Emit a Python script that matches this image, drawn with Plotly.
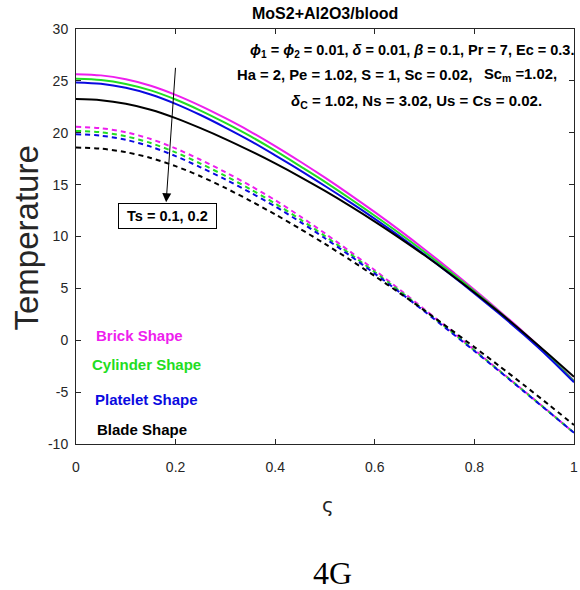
import plotly.graph_objects as go

# Dimensionless coordinate
zeta = [0.00, 0.05, 0.10, 0.15, 0.20, 0.25, 0.30, 0.35, 0.40, 0.45, 0.50,
        0.55, 0.60, 0.65, 0.70, 0.75, 0.80, 0.85, 0.90, 0.95, 1.00]

# Temperature profiles, Ts = 0.1 (solid)
brick_ts1 = [25.65, 25.53, 25.15, 24.53, 23.65, 22.59, 21.40, 20.12, 18.72, 17.23, 15.67,
             14.04, 12.35, 10.59, 8.75, 6.84, 4.87, 2.83, 0.72, -1.50, -3.90]
cylinder_ts1 = [25.20, 25.08, 24.70, 24.08, 23.20, 22.14, 20.95, 19.67, 18.27, 16.78, 15.27,
                13.66, 12.00, 10.29, 8.50, 6.64, 4.72, 2.72, 0.64, -1.56, -3.95]
platelet_ts1 = [24.85, 24.72, 24.33, 23.69, 22.79, 21.71, 20.50, 19.22, 17.82, 16.38, 14.87,
                13.32, 11.70, 10.01, 8.25, 6.42, 4.52, 2.55, 0.50, -1.68, -4.05]
blade_ts1 = [23.25, 23.14, 22.79, 22.22, 21.41, 20.44, 19.39, 18.25, 17.04, 15.75, 14.39,
             12.95, 11.44, 9.85, 8.19, 6.44, 4.61, 2.69, 0.68, -1.40, -3.52]

# Temperature profiles, Ts = 0.2 (dashed)
brick_ts2 = [20.57, 20.44, 20.05, 19.40, 18.49, 17.40, 16.20, 14.90, 13.50, 11.95, 10.30,
             8.56, 6.75, 4.88, 2.97, 1.03, -0.93, -2.91, -4.90, -6.90, -8.92]
cylinder_ts2 = [20.18, 20.05, 19.66, 19.01, 18.11, 17.03, 15.84, 14.56, 13.18, 11.66, 10.04,
                8.34, 6.57, 4.74, 2.87, 0.96, -0.98, -2.94, -4.92, -6.91, -8.92]
platelet_ts2 = [19.86, 19.72, 19.32, 18.66, 17.75, 16.67, 15.50, 14.24, 12.90, 11.41, 9.83,
                8.16, 6.42, 4.62, 2.77, 0.88, -1.04, -2.99, -4.95, -6.93, -8.92]
blade_ts2 = [18.58, 18.47, 18.13, 17.57, 16.78, 15.81, 14.68, 13.44, 12.13, 10.74, 9.28,
             7.76, 6.18, 4.55, 2.86, 1.12, -0.66, -2.48, -4.34, -6.24, -8.17]

shape_names = ["Brick Shape", "Cylinder Shape", "Platelet Shape", "Blade Shape"]
shape_colors = ["#ee1eee", "#22dd22", "#0a0ae0", "#000000"]

x_ticks = [0, 0.2, 0.4, 0.6, 0.8, 1]
x_tick_text = ["0", "0.2", "0.4", "0.6", "0.8", "1"]
y_ticks = [-10, -5, 0, 5, 10, 15, 20, 25, 30]
y_tick_text = ["-10", "-5", "0", "5", "10", "15", "20", "25", "30"]

fig = go.Figure()

solid_sets = [brick_ts1, cylinder_ts1, platelet_ts1, blade_ts1]
dashed_sets = [brick_ts2, cylinder_ts2, platelet_ts2, blade_ts2]

for name, color, ys in zip(shape_names, shape_colors, solid_sets):
    fig.add_trace(go.Scatter(
        x=zeta, y=ys, mode="lines", name=name,
        line=dict(color=color, width=2, shape="spline", smoothing=0.8),
        showlegend=False,
    ))
for name, color, ys in zip(shape_names, shape_colors, dashed_sets):
    fig.add_trace(go.Scatter(
        x=zeta, y=ys, mode="lines", name=name,
        line=dict(color=color, width=2, dash="5px,4px", shape="spline", smoothing=0.8),
        showlegend=False,
    ))

font_main = "Liberation Sans, Arial, sans-serif"
axis_color = "#262626"

annotations = []

# Title
annotations.append(dict(
    text="<b>MoS2+Al2O3/blood</b>", xref="paper", yref="paper",
    x=0.5, y=1.0, yshift=16, xanchor="center", yanchor="middle",
    showarrow=False, font=dict(family=font_main, size=16, color="#000000"),
))

# Parameter lines (text, left x in data units, y, font size)
param_lines = [
    ("<b><i>ϕ</i><sub>1</sub> = <i>ϕ</i><sub>2</sub> = 0.01, <i>δ</i> = 0.01, <i>β</i> = 0.1, Pr = 7, Ec = 0.3.</b>", 0.345, 27.85, 14.5),
    ("<b>Ha = 2, Pe = 1.02, S = 1, Sc = 0.02,</b>", 0.320, 25.55, 14.8),
    ("<b>Sc<sub>m</sub> =1.02,</b>", 0.815, 25.55, 14.8),
    ("<b><i>δ</i><sub>C</sub> = 1.02, Ns = 3.02, Us = Cs = 0.02.</b>", 0.427, 23.05, 15),
]
for txt, xp, yv, fs in param_lines:
    annotations.append(dict(
        text=txt, xref="x", yref="y", x=xp, y=yv,
        xanchor="left", yanchor="middle", showarrow=False,
        font=dict(family=font_main, size=fs, color="#000000"),
    ))

# Arrow showing increasing Ts
annotations.append(dict(
    text="", xref="x", yref="y", axref="x", ayref="y",
    x=0.181, y=13.3, ax=0.2, ay=26.4,
    showarrow=True, arrowhead=2, arrowsize=1.8, arrowwidth=1,
    arrowcolor="#000000", standoff=0,
))

# Ts label box
annotations.append(dict(
    text="<b>&nbsp;Ts = 0.1, 0.2&nbsp;</b>", xref="x", yref="y", x=0.184, y=11.95,
    xanchor="center", yanchor="middle", showarrow=False,
    font=dict(family=font_main, size=14.5, color="#000000"),
    bordercolor="#000000", borderwidth=1, borderpad=4, bgcolor="#ffffff",
))

# Shape labels
label_pos = [(0.037, 0.5), (0.029, -2.3), (0.035, -5.7), (0.039, -8.6)]
for name, color, (xp, yv) in zip(shape_names, shape_colors, label_pos):
    annotations.append(dict(
        text="<b>%s</b>" % name, xref="x", yref="y", x=xp, y=yv,
        xanchor="left", yanchor="middle", showarrow=False,
        font=dict(family=font_main, size=15, color=color),
    ))

# Axis titles
annotations.append(dict(
    text="Temperature", xref="paper", yref="paper", x=0, xshift=-50,
    y=0.5, yshift=-2, textangle=-90, xanchor="center", yanchor="middle",
    showarrow=False, font=dict(family=font_main, size=33, color=axis_color),
))
annotations.append(dict(
    text="ς", xref="paper", yref="paper", x=0.5, y=0, yshift=-61,
    xshift=3, xanchor="center", yanchor="middle", showarrow=False,
    font=dict(family="DejaVu Sans, sans-serif", size=20, color=axis_color),
))
annotations.append(dict(
    text="4G", xref="paper", yref="paper", x=0.5, y=0, yshift=-129,
    xshift=7, xanchor="center", yanchor="middle", showarrow=False,
    font=dict(family="Liberation Serif, Times New Roman, serif", size=32, color="#000000"),
))

fig.update_layout(
    width=580, height=590,
    margin=dict(l=76, r=2, t=29, b=146),
    paper_bgcolor="#ffffff", plot_bgcolor="#ffffff",
    annotations=annotations,
    showlegend=False,
)

fig.update_xaxes(
    range=[0, 1], tickvals=x_ticks, ticktext=x_tick_text,
    ticks="inside", ticklen=5, tickwidth=1, tickcolor=axis_color,
    showline=True, linecolor=axis_color, linewidth=1, mirror="ticks",
    showgrid=False, zeroline=False, ticklabelstandoff=10,
    ticklabeloverflow="allow",
    tickfont=dict(family=font_main, size=14, color=axis_color),
)
fig.update_yaxes(
    range=[-10, 30], tickvals=y_ticks, ticktext=y_tick_text,
    ticks="inside", ticklen=5, tickwidth=1, tickcolor=axis_color,
    showline=True, linecolor=axis_color, linewidth=1, mirror="ticks",
    showgrid=False, zeroline=False, ticklabelstandoff=4,
    tickfont=dict(family=font_main, size=14, color=axis_color),
)

fig.write_html("out.html")
